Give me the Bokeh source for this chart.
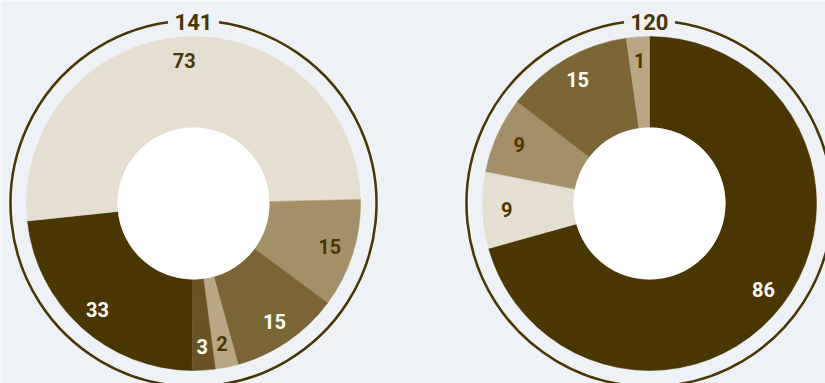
import math
from bokeh.plotting import figure
from bokeh.models import Range1d, ColumnDataSource
from bokeh.core.properties import value
from bokeh.embed import file_html
from bokeh.resources import INLINE

# ---- data ----
categories = ["A", "B", "C", "D", "E", "F"]
left_values = [33, 73, 15, 15, 2, 3]
right_values = [86, 9, 9, 15, 1, 0]
left_total = sum(left_values)    # 141
right_total = sum(right_values)  # 120

colors = ["#4a3600", "#e4dfd0", "#a39068", "#7a6535", "#b7a785", "#6a5322"]
label_colors = ["#ffffff", "#4a3600", "#4a3600", "#ffffff", "#4a3600", "#ffffff"]

W, H = 825, 383
BG = "#eef2f6"
DARK = "#4a3600"
FONT = "Roboto"
MIN_ANGLE = 8.0  # display rule: tiny slices are drawn at least this wide

p = figure(width=W, height=H, output_backend="svg", toolbar_location=None,
           x_range=Range1d(0, W), y_range=Range1d(0, H),
           min_border=0, background_fill_color=BG, border_fill_color=BG)
p.axis.visible = False
p.grid.visible = False
p.outline_line_color = None

R_OUT, R_IN, R_RING, R_LAB = 167, 76, 183, 143


def spans(vals):
    tot = float(sum(vals))
    raw = [v / tot * 360.0 for v in vals]
    small = [r > 0 and r < MIN_ANGLE for r in raw]
    fixed = sum(MIN_ANGLE for s in small if s)
    rest = sum(r for r, s in zip(raw, small) if not s)
    k = (360.0 - fixed) / rest
    return [MIN_ANGLE if s else r * k for r, s in zip(raw, small)]


def donut(cx, cy, vals, start_deg, total):
    sp = spans(vals)
    xs, ys, sa, ea, cols, lx, ly, lt, lc = [], [], [], [], [], [], [], [], []
    cum = 0.0
    for i, v in enumerate(vals):
        if v <= 0:
            continue
        a0 = start_deg - cum
        cum += sp[i]
        a1 = start_deg - cum
        xs.append(cx); ys.append(cy)
        sa.append(math.radians(a0)); ea.append(math.radians(a1))
        cols.append(colors[i])
        mid = math.radians((a0 + a1) / 2)
        lx.append(cx + R_LAB * math.cos(mid))
        ly.append(cy + R_LAB * math.sin(mid))
        lt.append(str(v)); lc.append(label_colors[i])
    src = ColumnDataSource(dict(x=xs, y=ys, sa=sa, ea=ea, c=cols))
    p.annular_wedge(x="x", y="y", inner_radius=R_IN, outer_radius=R_OUT,
                    start_angle="sa", end_angle="ea", direction="clock",
                    fill_color="c", line_color="c", line_width=0.5, source=src)
    p.circle(x=[cx], y=[cy], radius=R_IN, fill_color="white", line_color=None)
    lsrc = ColumnDataSource(dict(x=lx, y=ly, t=lt, c=lc))
    p.text(x="x", y="y", text="t", text_color="c", source=lsrc,
           text_align="center", text_baseline="middle",
           text_font=value(FONT), text_font_size="20px", text_font_style="bold")
    # outer ring with a gap for the total
    gap = 8.0
    p.arc(x=[cx], y=[cy], radius=R_RING,
          start_angle=math.radians(90 + gap), end_angle=math.radians(90 - gap),
          direction="anticlock", line_color=DARK, line_width=2.5)
    p.text(x=[cx], y=[cy + R_RING - 1], text=[str(total)], text_color=DARK,
           text_align="center", text_baseline="middle",
           text_font=value(FONT), text_font_size="22px", text_font_style="bold")


CY = H - 203
donut(193, CY, left_values, -90.5, left_total)
donut(649, CY, right_values, 90.0, right_total)

open("out.html", "w").write(file_html(p, INLINE))
